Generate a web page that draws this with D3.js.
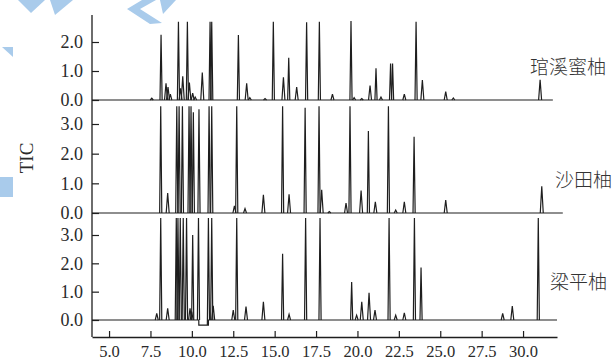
<!DOCTYPE html>
<html>
<head>
<meta charset="utf-8">
<script src="https://cdnjs.cloudflare.com/ajax/libs/d3/7.8.5/d3.min.js"></script>
<style>
  body { margin: 0; background: #fff; }
  svg { display: block; }
</style>
</head>
<body>
<div id="chart"></div>
<script>
// sample names, top to bottom
var samples = ["琯溪蜜柚", "沙田柚", "梁平柚"];

// retention time (min), TIC value
var peaks1 = [[7.58,0.06],[8.14,2.25],[8.44,0.58],[8.56,0.45],[8.7,0.2],[9.19,2.7],[9.32,0.4],
  [9.45,0.82],[9.73,2.7],[9.85,0.6],[10.05,0.24],[10.2,0.1],[10.63,0.95],[11.1,2.7],[11.2,2.7],
  [12.81,2.24],[13.31,0.58],[13.5,0.08],[14.42,0.05],[14.92,2.7],[15.53,0.78],[15.85,1.46],
  [16.33,0.45],[16.93,2.68],[17.7,2.7],[18.49,0.2],[19.61,2.72],[19.8,0.08],[20.26,0.05],
  [20.76,0.5],[21.12,1.09],[21.42,0.1],[22.0,1.26],[22.12,1.26],[22.83,0.2],[23.54,2.7],
  [23.92,0.69],[25.33,0.29],[25.79,0.07],[31.03,0.7]];

var peaks2 = [[8.12,3.6],[8.54,0.67],[9.09,3.6],[9.23,3.6],[9.43,3.6],[9.83,3.6],[9.95,3.6],
  [10.09,3.4],[10.43,3.5],[11.04,3.6],[11.2,3.6],[12.57,0.24],[12.71,3.6],[13.21,0.15],
  [14.32,0.61],[15.48,3.6],[15.87,0.63],[16.84,3.55],[17.68,3.6],[17.84,0.78],[18.3,0.05],
  [19.31,0.33],[19.55,3.6],[20.22,0.76],[20.66,2.76],[21.08,0.38],[21.87,3.6],[22.31,0.1],
  [22.83,0.38],[23.42,2.57],[25.33,0.44],[31.13,0.9]];

var peaks3 = [[7.88,0.23],[8.12,3.6],[8.54,0.41],[9.06,3.6],[9.16,3.6],[9.3,3.6],[9.48,3.6],
  [9.68,3.6],[9.89,0.41],[9.99,0.3],[10.05,3.0],[10.4,3.6],[11.0,3.6],[11.2,3.6],[11.29,0.5],
  [12.5,0.35],[12.71,3.6],[13.27,0.47],[14.32,0.64],[15.48,2.34],[15.87,0.2],[16.87,3.6],
  [17.74,3.6],[19.65,1.34],[19.95,0.17],[20.26,0.64],[20.7,0.96],[21.06,0.35],[21.91,3.6],
  [22.31,0.17],[22.83,0.25],[23.44,3.6],[23.84,1.85],[28.77,0.23],[29.35,0.49],[30.92,3.6]];

// baselines (time, value) - the third run dips between 10.42 and 11.0
var base1 = [[3.97,0],[31.8,0]];
var base2 = [[3.97,0],[32.4,0]];
var base3 = [[3.97,0],[10.42,0],[10.42,-0.18],[11.0,-0.18],[11.0,0],[32.05,0]];

var xTicks = [5, 7.5, 10, 12.5, 15, 17.5, 20, 22.5, 25, 27.5, 30];
var yTicks1 = [0, 1, 2];
var yTicks2 = [0, 1, 2, 3];
var yTicks3 = [0, 1, 2, 3];

var width = 614, height = 360;

var svg = d3.select("#chart").append("svg")
    .attr("width", width)
    .attr("height", height);

// light blue watermark bits in the corner
var blue = "#a9cbeb";
var marks = [
  [[18,0],[45,0],[31,13]],
  [[50,0],[73,0],[55,15]],
  [[142,0],[156,0],[140,9],[162,23],[150,24],[127,9]],
  [[160,0],[176,0],[163,14]],
  [[2,47],[13,47],[13,57]]
];
svg.selectAll("polygon.wm").data(marks).enter().append("polygon")
    .attr("class", "wm")
    .attr("points", function(d) { return d.map(function(p) { return p.join(","); }).join(" "); })
    .attr("fill", blue);
svg.append("rect").attr("x", 0).attr("y", 177).attr("width", 13).attr("height", 20).attr("fill", blue);

var x = d3.scaleLinear().domain([3.97, 32.05]).range([92, 557]);

var panels = [
  { peaks: peaks1, base: base1, ticks: yTicks1, y: d3.scaleLinear().domain([0, 2]).range([100, 42]) },
  { peaks: peaks2, base: base2, ticks: yTicks2, y: d3.scaleLinear().domain([0, 3]).range([213, 124]) },
  { peaks: peaks3, base: base3, ticks: yTicks3, y: d3.scaleLinear().domain([0, 3]).range([320, 235]) }
];
var labelPos = [[530, 74], [555, 187], [550, 289]];

var serif = "'Liberation Serif', 'Times New Roman', serif";
var ink = "#1e1e1e";

panels.forEach(function(p, i) {
  var y = p.y;
  var g = svg.append("g");

  var line = d3.line()
      .x(function(d) { return x(d[0]); })
      .y(function(d) { return y(d[1]); });

  g.append("path")
      .datum(p.base)
      .attr("d", line)
      .attr("fill", "none")
      .attr("stroke", ink)
      .attr("stroke-width", 1.2);

  g.selectAll("path.peak")
      .data(p.peaks)
      .enter().append("path")
      .attr("class", "peak")
      .attr("d", function(d) {
        var hw = d[1] < 1 ? 0.09 : 0.065;
        var b = (i == 2 && d[0] > 10.41 && d[0] < 11.01) ? -0.18 : 0;
        return line([[d[0] - hw, b], [d[0], d[1]], [d[0] + hw, 0]]);
      })
      .attr("fill", "none")
      .attr("stroke", ink)
      .attr("stroke-width", 1.2)
      .attr("stroke-linejoin", "miter");

  var ax = svg.append("g")
      .attr("transform", "translate(92,0)")
      .call(d3.axisLeft(y)
        .tickValues(p.ticks)
        .tickSize(-7)
        .tickPadding(9)
        .tickFormat(d3.format(".1f")));
  ax.select(".domain").remove();
  ax.selectAll("line").attr("stroke", ink).attr("stroke-width", 1.2);
  ax.selectAll("text")
      .attr("font-family", serif)
      .attr("font-size", 18)
      .attr("fill", "#2a2a2a");

  svg.append("text")
      .attr("x", labelPos[i][0])
      .attr("y", labelPos[i][1])
      .attr("font-family", "'Noto Sans CJK SC', sans-serif")
      .attr("font-size", 19)
      .attr("font-weight", 300)
      .attr("fill", "#333")
      .text(samples[i]);
});

// one long y axis line
svg.append("line")
    .attr("x1", 92).attr("x2", 92)
    .attr("y1", 15).attr("y2", 337)
    .attr("stroke", ink)
    .attr("stroke-width", 1.3);

var xAxis = svg.append("g")
    .attr("transform", "translate(0,337)")
    .call(d3.axisBottom(x)
      .tickValues(xTicks)
      .tickSize(-6)
      .tickSizeOuter(0)
      .tickPadding(8)
      .tickFormat(d3.format(".1f")));
xAxis.select(".domain").attr("stroke", ink).attr("stroke-width", 1.3);
xAxis.selectAll("line").attr("stroke", ink).attr("stroke-width", 1.2);
xAxis.selectAll("text")
    .attr("font-family", serif)
    .attr("font-size", 16.5)
    .attr("fill", "#2a2a2a");

svg.append("text")
    .attr("transform", "translate(33,158) rotate(-90)")
    .attr("text-anchor", "middle")
    .attr("font-family", serif)
    .attr("font-size", 19)
    .attr("fill", "#2a2a2a")
    .text("TIC");
</script>
</body>
</html>
